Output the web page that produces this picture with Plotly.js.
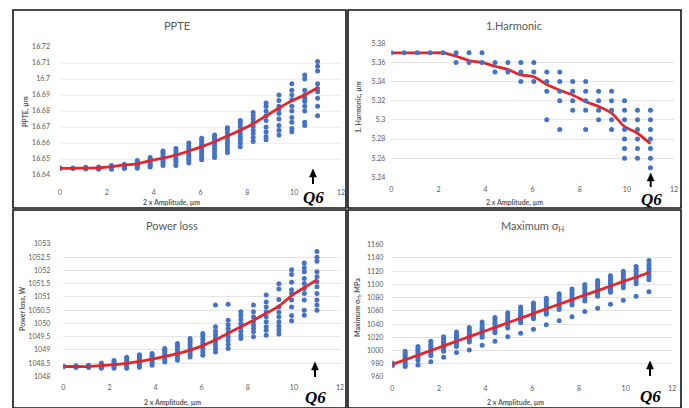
<!DOCTYPE html>
<html>
<head>
<meta charset="utf-8">
<script src="https://cdn.plot.ly/plotly-3.0.1.min.js"></script>
<style>html,body{margin:0;padding:0;background:#fff;}#chart{width:689px;height:408px;}</style>
</head>
<body>
<div id="chart"></div>
<script>
// ---------- data ----------
const amplitude = [0,0.55,1.1,1.65,2.2,2.75,3.3,3.85,4.4,4.95,5.5,6.05,6.6,7.15,7.7,8.25,8.8,9.35,9.9,10.45,11];

const ppteCols = [
  [16.644,16.6445],
  [16.644,16.6443],
  [16.6438,16.6443,16.6448],
  [16.6436,16.644,16.6445,16.645],
  [16.6436,16.6442,16.6448,16.6455,16.646],
  [16.644,16.6447,16.6453,16.646,16.6467],
  [16.6442,16.645,16.6458,16.6466,16.6474,16.6482,16.649],
  [16.645,16.646,16.647,16.648,16.649,16.650,16.651],
  [16.646,16.6473,16.6486,16.65,16.6513,16.6526,16.654,16.655],
  [16.646,16.6475,16.649,16.6505,16.652,16.6535,16.655,16.6565],
  [16.6475,16.649,16.6505,16.652,16.6535,16.655,16.6565,16.658,16.66],
  [16.6495,16.651,16.6525,16.654,16.6555,16.657,16.6585,16.66,16.6615,16.663],
  [16.651,16.6525,16.6545,16.6565,16.6585,16.66,16.662,16.6635,16.665],
  [16.654,16.656,16.658,16.66,16.662,16.664,16.666,16.668,16.6695],
  [16.6577,16.66,16.662,16.664,16.666,16.668,16.6705,16.6725,16.674],
  [16.661,16.6635,16.666,16.668,16.6705,16.673,16.675,16.677,16.679],
  [16.662,16.664,16.667,16.670,16.674,16.677,16.680,16.683,16.685],
  [16.665,16.668,16.671,16.675,16.6785,16.681,16.683,16.6865,16.690],
  [16.667,16.669,16.673,16.676,16.680,16.683,16.687,16.690,16.693,16.697],
  [16.671,16.673,16.680,16.683,16.686,16.688,16.690,16.693,16.700,16.7025],
  [16.677,16.683,16.688,16.692,16.694,16.697,16.705,16.708,16.711]
];
const ppteMean = [16.6442,16.6442,16.6443,16.6444,16.6452,16.6463,16.647,16.649,16.6505,16.6525,16.655,16.6577,16.6608,16.6644,16.668,16.672,16.677,16.6819,16.6864,16.690,16.6945];

const harmCols = [
  [5.37],[5.37],[5.37],[5.37],[5.37],
  [5.37,5.36],[5.37,5.36],[5.37,5.36],
  [5.36,5.35],[5.36,5.35],
  [5.36,5.35,5.34],[5.36,5.35,5.34],
  [5.35,5.34,5.33,5.30],
  [5.35,5.34,5.33,5.32,5.29],
  [5.34,5.33,5.32,5.31],
  [5.34,5.33,5.32,5.31,5.29],
  [5.33,5.32,5.31,5.30],
  [5.33,5.32,5.31,5.30,5.29],
  [5.32,5.31,5.30,5.29,5.28,5.27,5.26],
  [5.31,5.30,5.29,5.28,5.27,5.26],
  [5.31,5.30,5.29,5.28,5.27,5.26,5.25]
];
const harmMean = [5.37,5.37,5.37,5.37,5.37,5.3665,5.362,5.36,5.356,5.3526,5.347,5.345,5.337,5.331,5.326,5.319,5.314,5.307,5.293,5.286,5.275];

const lossCols = [
  [1048.35,1048.38],
  [1048.33,1048.37,1048.4],
  [1048.33,1048.37,1048.4,1048.42],
  [1048.3,1048.35,1048.4,1048.45,1048.5],
  [1048.3,1048.36,1048.42,1048.48,1048.54,1048.6],
  [1048.3,1048.37,1048.44,1048.51,1048.58,1048.65,1048.72],
  [1048.34,1048.41,1048.48,1048.55,1048.62,1048.69,1048.76,1048.81],
  [1048.42,1048.5,1048.58,1048.66,1048.74,1048.8,1048.86],
  [1048.54,1048.62,1048.7,1048.78,1048.86,1048.94,1049.0,1049.05],
  [1048.61,1048.7,1048.8,1048.9,1049.0,1049.1,1049.17,1049.24],
  [1048.73,1048.83,1048.93,1049.03,1049.13,1049.23,1049.33,1049.43],
  [1048.8,1048.92,1049.04,1049.16,1049.28,1049.4,1049.52,1049.62],
  [1048.92,1049.05,1049.18,1049.31,1049.44,1049.57,1049.7,1049.87,1050.69],
  [1049.05,1049.2,1049.35,1049.5,1049.65,1049.8,1049.95,1050.12,1050.72],
  [1049.43,1049.55,1049.7,1049.85,1050.0,1050.15,1050.3,1050.44],
  [1049.49,1049.68,1049.81,1049.93,1050.06,1050.25,1050.44,1050.69],
  [1049.55,1049.74,1049.87,1050.06,1050.25,1050.44,1050.62,1050.81,1051.07],
  [1049.6,1049.75,1049.9,1050.06,1050.25,1050.42,1050.62,1050.9,1051.3,1051.5],
  [1050.1,1050.3,1050.62,1050.88,1051.13,1051.27,1051.55,1051.85,1052.03],
  [1050.31,1050.5,1050.88,1051.13,1051.32,1051.51,1051.7,1051.95,1052.1,1052.28],
  [1050.5,1050.69,1050.88,1051.13,1051.38,1051.57,1051.76,1051.95,1052.35,1052.5,1052.72]
];
const lossMean = [1048.37,1048.37,1048.37,1048.4,1048.44,1048.49,1048.56,1048.65,1048.75,1048.86,1048.99,1049.16,1049.38,1049.63,1049.87,1050.12,1050.38,1050.65,1051.05,1051.35,1051.65];

const stressCols = [
  [977,979,981],
  [976,978,981,984,987,990,993,996,999],
  [978,985,988,991,994,997,1000,1003,1006],
  [983,992,995,998,1001,1004,1007,1010,1014],
  [990,999,1002,1005,1008,1011,1014,1017,1021],
  [997,1006,1009,1012,1015,1018,1021,1024,1028],
  [1001,1013,1016,1019,1022,1025,1028,1031,1035],
  [1008,1020,1023,1026,1029,1032,1035,1039,1043],
  [1014,1027,1030,1033,1036,1040,1043,1047,1050],
  [1021,1034,1037,1040,1044,1047,1050,1054,1057],
  [1026,1042,1045,1048,1051,1055,1058,1062,1066],
  [1032,1048,1051,1055,1058,1062,1065,1069,1072],
  [1039,1055,1058,1062,1065,1069,1072,1076,1079],
  [1045,1062,1065,1069,1072,1076,1079,1083,1086],
  [1051,1069,1072,1076,1079,1083,1086,1090,1093],
  [1059,1075,1079,1082,1086,1089,1093,1096,1100],
  [1064,1082,1085,1089,1092,1096,1099,1103,1106],
  [1070,1088,1092,1095,1099,1102,1106,1109,1113],
  [1076,1095,1099,1102,1106,1109,1113,1116,1120],
  [1082,1101,1105,1109,1112,1116,1120,1123,1127],
  [1089,1107,1111,1115,1119,1123,1127,1131,1136]
];
const stressMean = [979,986,993,1000,1007,1014,1021,1028,1035,1042,1049,1056,1063,1070,1077,1084,1090.5,1097.5,1104.5,1111,1118];

const xTicks = [0,2,4,6,8,10,12];
const ppteTicks = [16.64,16.65,16.66,16.67,16.68,16.69,16.70,16.71,16.72];
const ppteTickText = ['16.64','16.65','16.66','16.67','16.68','16.69','16.7','16.71','16.72'];
const harmTicks = [5.24,5.26,5.28,5.30,5.32,5.34,5.36,5.38];
const harmTickText = ['5.24','5.26','5.28','5.3','5.32','5.34','5.36','5.38'];
const lossTicks = [1048,1048.5,1049,1049.5,1050,1050.5,1051,1051.5,1052,1052.5,1053];
const lossTickText = ['1048','1048.5','1049','1049.5','1050','1050.5','1051','1051.5','1052','1052.5','1053'];
const stressTicks = [960,980,1000,1020,1040,1060,1080,1100,1120,1140,1160];

const panelTitles = ['PPTE','1.Harmonic','Power loss','Maximum σ<sub>H</sub>'];
const yTitles = ['PPTE, µm','1. Harmonic, µm','Power loss, W','Maximum σ<sub>H</sub>, MPa'];
const xTitle = '2 x Amplitude, µm';
const markLabel = 'Q6';

// ---------- build ----------
const W = 689, H = 408;
const px = v => v / W;
const py = v => 1 - v / H;
const BLUE = '#4472C4', RED = '#E3262B', GREY = '#595959';
const FONT = 'Lato, "Open Sans", sans-serif';

function scatterFrom(cols, xa, ya) {
  const xs = [], ys = [];
  cols.forEach((c, i) => c.forEach(v => { xs.push(amplitude[i]); ys.push(v); }));
  return {x: xs, y: ys, xaxis: xa, yaxis: ya, type: 'scatter', mode: 'markers',
          marker: {color: BLUE, size: 5}, hoverinfo: 'skip', showlegend: false};
}
function lineFrom(mean, xa, ya) {
  return {x: amplitude, y: mean, xaxis: xa, yaxis: ya, type: 'scatter', mode: 'lines',
          line: {color: RED, width: 2.8, shape: 'spline', smoothing: 0.6}, hoverinfo: 'skip', showlegend: false};
}

const data = [
  scatterFrom(ppteCols, 'x', 'y'), lineFrom(ppteMean, 'x', 'y'),
  lineFrom(harmMean, 'x2', 'y2'), scatterFrom(harmCols, 'x2', 'y2'),
  scatterFrom(lossCols, 'x3', 'y3'), lineFrom(lossMean, 'x3', 'y3'),
  scatterFrom(stressCols, 'x4', 'y4'), lineFrom(stressMean, 'x4', 'y4')
];

function xAx(dom, anchor, standoff) {
  return {domain: dom, anchor: anchor, range: [0, 12], tickvals: xTicks, showgrid: false,
          zeroline: false, showline: false, ticks: '', ticklabelstandoff: standoff,
          tickfont: {family: FONT, size: 7, color: GREY}, fixedrange: true};
}
function yAx(dom, anchor, range, vals, text, standoff, gridc) {
  return {domain: dom, anchor: anchor, range: range, tickvals: vals, ticktext: text,
          showgrid: true, gridcolor: gridc, gridwidth: 0.8, zeroline: false, showline: false,
          ticks: '', ticklabelstandoff: standoff,
          tickfont: {family: FONT, size: 7, color: GREY}, fixedrange: true};
}

const layout = {
  width: W, height: H, margin: {l: 0, r: 0, t: 0, b: 0},
  paper_bgcolor: '#fff', plot_bgcolor: 'rgba(0,0,0,0)', showlegend: false,
  xaxis:  xAx([px(60), px(341)], 'y', 12),
  yaxis:  yAx([py(175), py(47)], 'x', [16.64, 16.72], ppteTicks, ppteTickText, 9, '#ECECEC'),
  xaxis2: xAx([px(391.3), px(674)], 'y2', 7),
  yaxis2: yAx([py(177.3), py(43.3)], 'x2', [5.24, 5.38], harmTicks, harmTickText, 5, '#DCDCDC'),
  xaxis3: xAx([px(63.3), px(340)], 'y3', 6),
  yaxis3: yAx([py(376.3), py(244)], 'x3', [1048, 1053], lossTicks, lossTickText, 12, '#DCDCDC'),
  xaxis4: xAx([px(392.3), px(672.3)], 'y4', 6),
  yaxis4: yAx([py(377), py(244.7)], 'x4', [960, 1160], stressTicks, null, 8, '#DCDCDC'),
  shapes: [
    [13, 10, 346, 208], [348, 10, 681, 208], [13, 210, 346, 408], [348, 210, 681, 408]
  ].map(r => ({type: 'rect', xref: 'paper', yref: 'paper', x0: px(r[0]), x1: px(r[2]),
               y0: py(r[3]), y1: py(r[1]), line: {color: '#111', width: 1.6}})),
  annotations: []
};

const titlePos = [[177, 25], [514, 25], [172, 225], [532, 226]];
const xTitlePos = [[171, 202], [514, 202], [173, 402], [515, 402]];
const yTitlePos = [[25, 112], [359, 107], [22, 309], [357, 308]];
const arrowPos = [[313, 169, 184], [650.7, 173, 187], [315, 362, 377], [650, 361, 376]];
const markPos = [[313, 197], [651, 199], [315, 397], [650, 396]];

for (let i = 0; i < 4; i++) {
  layout.annotations.push({xref: 'paper', yref: 'paper', x: px(titlePos[i][0]), y: py(titlePos[i][1]),
    text: panelTitles[i], showarrow: false, xanchor: 'center', yanchor: 'middle',
    font: {family: FONT, size: 11, color: GREY}});
  layout.annotations.push({xref: 'paper', yref: 'paper', x: px(xTitlePos[i][0]), y: py(xTitlePos[i][1]),
    text: '<b>' + xTitle + '</b>', showarrow: false, xanchor: 'center', yanchor: 'middle',
    font: {family: FONT, size: 7, color: GREY}});
  layout.annotations.push({xref: 'paper', yref: 'paper', x: px(yTitlePos[i][0]), y: py(yTitlePos[i][1]),
    text: '<b>' + yTitles[i] + '</b>', showarrow: false, textangle: -90, xanchor: 'center', yanchor: 'middle',
    font: {family: FONT, size: 7, color: GREY}});
  layout.annotations.push({xref: 'paper', yref: 'paper', x: px(markPos[i][0]), y: py(markPos[i][1]),
    text: '<b><i>' + markLabel + '</i></b>', showarrow: false, xanchor: 'center', yanchor: 'middle',
    font: {family: '"Liberation Serif", "DejaVu Serif", serif', size: 17, color: '#000'}});
  // arrow drawn as shaft + triangular head
  const a = arrowPos[i];
  layout.shapes.push({type: 'line', xref: 'paper', yref: 'paper', x0: px(a[0]), x1: px(a[0]),
    y0: py(a[2]), y1: py(a[1] + 6), line: {color: '#000', width: 2}});
  const head = 'M ' + px(a[0] - 3.5) + ' ' + py(a[1] + 8) + ' L ' + px(a[0] + 3.5) + ' ' + py(a[1] + 8) +
               ' L ' + px(a[0]) + ' ' + py(a[1]) + ' Z';
  layout.shapes.push({type: 'path', xref: 'paper', yref: 'paper', path: head,
    fillcolor: '#000', line: {color: '#000', width: 0.5}});
}

Plotly.newPlot('chart', data, layout, {displayModeBar: false, staticPlot: true});
</script>
</body>
</html>
